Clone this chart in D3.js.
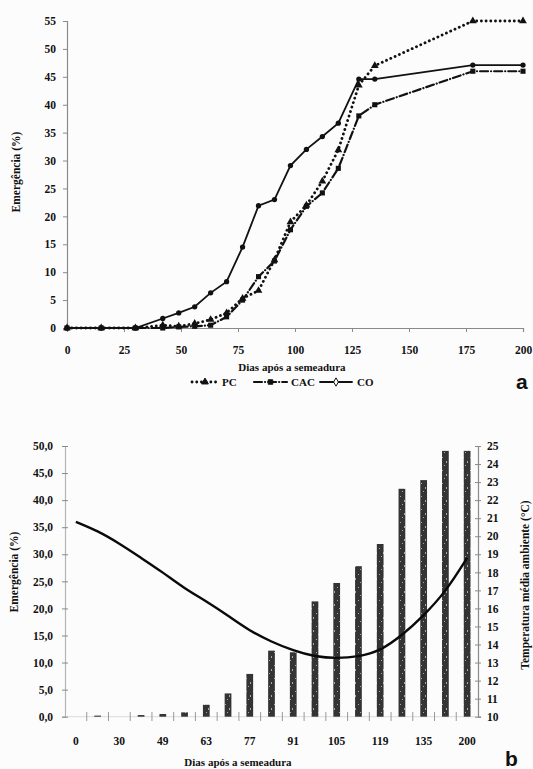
<!DOCTYPE html>
<html>
<head>
<meta charset="utf-8">
<script src="https://cdn.jsdelivr.net/npm/d3@7"></script>
<style>
  body { margin: 0; background: #fcfcfc; }
  svg { display: block; }
  text { font-family: "Liberation Serif", "Times New Roman", serif; font-weight: bold; fill: #111; }
  .tag { font-family: "Liberation Sans", Arial, sans-serif; font-size: 21px; }
</style>
</head>
<body>
<svg id="canvas" width="533" height="769"></svg>
<script>
// days after sowing (shared by both panels)
const days = [0, 15, 30, 42, 49, 56, 63, 70, 77, 84, 91, 98, 105, 112, 119, 128, 135, 178, 200];

// panel a - emergence (%) per treatment
const pc  = [0, 0, 0, 0.5, 0.3, 0.8, 1.5, 2.7, 5.3, 6.7, 12.2, 19.0, 22.0, 26.3, 31.9, 43.5, 47.0, 55.0, 55.0];
const cac = [0, 0, 0, 0, 0.2, 0.3, 0.5, 2.0, 5.0, 9.2, 12.0, 17.6, 21.8, 24.2, 28.6, 38.0, 40.0, 46.0, 46.0];
const co  = [0, 0, 0, 1.7, 2.7, 3.8, 6.3, 8.3, 14.5, 21.9, 23.0, 29.1, 32.0, 34.3, 36.7, 44.6, 44.6, 47.1, 47.1];
const xTicksA = [0, 25, 50, 75, 100, 125, 150, 175, 200];
const yTicksA = [0, 5, 10, 15, 20, 25, 30, 35, 40, 45, 50, 55];

// panel b - emergence bars and mean air temperature
const emerg = [0, 0.2, 0, 0.3, 0.5, 0.8, 2.2, 4.3, 7.9, 12.2, 11.9, 21.3, 24.7, 27.8, 31.9, 42.1, 43.7, 49.1, 49.1];
const temp  = [20.8, 20.3, 19.6, 18.8, 18.0, 17.1, 16.4, 15.6, 14.75, 14.15, 13.66, 13.32, 13.23, 13.32, 13.64, 14.5, 15.6, 16.9, 18.8];
const xLabelsB = ['0', '30', '49', '63', '77', '91', '105', '119', '135', '200'];
const yTicksB = [0, 5, 10, 15, 20, 25, 30, 35, 40, 45, 50];
const tTicksB = d3.range(10, 26);

const svg = d3.select('#canvas');

// speckled fill for the bars (scanned look)
const pat = svg.append('defs').append('pattern')
    .attr('id', 'speckle').attr('patternUnits', 'userSpaceOnUse')
    .attr('width', 7).attr('height', 13);
pat.append('rect').attr('width', 7).attr('height', 13).attr('fill', '#343434');
[[1, 2, 1, 1], [5, 6, 1, 2], [3, 10, 1, 1]].forEach(([x, y, w, h]) => {
    pat.append('rect').attr('x', x).attr('y', y).attr('width', w).attr('height', h).attr('fill', '#a8a8a8');
});

function styleAxis(g, size) {
    g.select('.domain').attr('stroke', '#8a8a8a').attr('stroke-width', 1.2);
    g.selectAll('.tick line').attr('stroke', '#8a8a8a');
    g.selectAll('.tick text').style('font-size', size + 'px');
}

// ---------- panel a ----------
const xA = d3.scaleLinear().domain([0, 200]).range([67, 523]);
const yA = d3.scaleLinear().domain([0, 55]).range([328, 21]);

svg.append('g')
    .attr('transform', 'translate(0,328)')
    .call(d3.axisBottom(xA).tickValues(xTicksA).tickSize(4).tickPadding(14))
    .call(g => styleAxis(g, 11.5));

svg.append('g')
    .attr('transform', 'translate(67,0)')
    .call(d3.axisLeft(yA).tickValues(yTicksA).tickSize(4).tickPadding(7))
    .call(g => styleAxis(g, 11.5));

svg.append('text').attr('transform', 'translate(20,172) rotate(-90)')
    .attr('text-anchor', 'middle').style('font-size', '11.5px').text('Emergência (%)');
svg.append('text').attr('x', 292).attr('y', 371)
    .attr('text-anchor', 'middle').style('font-size', '11px').text('Dias após a semeadura');

const seriesA = [
    { name: 'PC', values: pc, dash: '0.1,4.6', width: 2.8, shape: d3.symbolTriangle },
    { name: 'CAC', values: cac, dash: '8,3,0.1,3', width: 2.2, shape: d3.symbolSquare },
    { name: 'CO', values: co, dash: null, width: 1.8, shape: d3.symbolCircle }
];

const lineA = d3.line().x((d, i) => xA(days[i])).y(d => yA(d));

seriesA.forEach(s => {
    svg.append('path')
        .datum(s.values)
        .attr('fill', 'none')
        .attr('stroke', '#111')
        .attr('stroke-width', s.width)
        .attr('stroke-linecap', 'round')
        .attr('stroke-dasharray', s.dash)
        .attr('d', lineA);
    svg.append('g').selectAll('path')
        .data(s.values)
        .join('path')
        .attr('transform', (d, i) => `translate(${xA(days[i])},${yA(d)})`)
        .attr('d', d3.symbol().type(s.shape).size(s.name === 'CO' ? 22 : 26))
        .attr('fill', '#111');
});

// legend
const legend = svg.append('g').attr('transform', 'translate(0,386)');
const legendPos = [{ x0: 192, x1: 218, tx: 222 }, { x0: 254, x1: 287, tx: 291 }, { x0: 320, x1: 352, tx: 357 }];
seriesA.forEach((s, i) => {
    const p = legendPos[i];
    legend.append('line')
        .attr('x1', p.x0).attr('x2', p.x1).attr('y1', -4).attr('y2', -4)
        .attr('stroke', '#111').attr('stroke-width', s.width)
        .attr('stroke-linecap', 'round').attr('stroke-dasharray', s.dash);
    legend.append('path')
        .attr('transform', `translate(${(p.x0 + p.x1) / 2},-4)`)
        .attr('d', d3.symbol().type(s.name === 'CO' ? d3.symbolDiamond : s.shape).size(20))
        .attr('fill', s.name === 'CO' ? '#fcfcfc' : '#111')
        .attr('stroke', '#111');
    legend.append('text').attr('x', p.tx).attr('y', 0).style('font-size', '11px').text(s.name);
});
svg.append('text').attr('class', 'tag').attr('x', 516).attr('y', 389).text('a');

// ---------- panel b ----------
const xB = d3.scaleBand().domain(days.map(String)).range([65, 478]).paddingInner(0.69).paddingOuter(0.345);
const yB = d3.scaleLinear().domain([0, 50]).range([716.7, 446]);
const yT = d3.scaleLinear().domain([10, 25]).range([716.7, 446]);
const step = xB.step();
const comma = d3.formatLocale({ decimal: ',', thousands: '.', grouping: [3], currency: ['', ''] }).format('.1f');

// baseline with boundary ticks
svg.append('line').attr('x1', 65).attr('x2', 478).attr('y1', 716.7).attr('y2', 716.7)
    .attr('stroke', '#dadada').attr('stroke-width', 1);
svg.append('g').selectAll('line')
    .data(days.slice(1))
    .join('line')
    .attr('x1', d => xB(String(d)) + xB.bandwidth() / 2 - step / 2)
    .attr('x2', d => xB(String(d)) + xB.bandwidth() / 2 - step / 2)
    .attr('y1', 712).attr('y2', 721)
    .attr('stroke', '#9a9a9a');

svg.append('g').selectAll('rect')
    .data(emerg)
    .join('rect')
    .attr('x', (d, i) => xB(String(days[i])))
    .attr('width', xB.bandwidth())
    .attr('y', d => yB(d))
    .attr('height', d => yB(0) - yB(d))
    .attr('fill', 'url(#speckle)');

const lineT = d3.line()
    .x((d, i) => xB(String(days[i])) + xB.bandwidth() / 2)
    .y(d => yT(d))
    .curve(d3.curveBasis);
svg.append('path').datum(temp)
    .attr('fill', 'none').attr('stroke', '#0a0a0a').attr('stroke-width', 2.4)
    .attr('d', lineT);

svg.append('g')
    .attr('transform', 'translate(65,0)')
    .call(d3.axisLeft(yB).tickValues(yTicksB).tickFormat(comma).tickSize(3).tickPadding(9))
    .call(g => styleAxis(g, 11.5))
    .call(g => g.select('.domain').attr('stroke', '#b5b5b5'))
    .call(g => g.selectAll('.tick line').attr('x2', 3).attr('x1', -3));

svg.append('g')
    .attr('transform', 'translate(478,0)')
    .call(d3.axisRight(yT).tickValues(tTicksB).tickFormat(d3.format('d')).tickSize(3).tickPadding(6))
    .call(g => styleAxis(g, 11.5))
    .call(g => g.selectAll('.tick line').attr('x1', -3));

const labelDays = days.filter((d, i) => i % 2 === 0);
svg.append('g')
    .attr('transform', 'translate(0,716.7)')
    .call(d3.axisBottom(xB).tickValues(labelDays.map(String)).tickFormat((d, i) => xLabelsB[i]).tickSize(0).tickPadding(20))
    .call(g => g.select('.domain').remove())
    .call(g => g.selectAll('.tick text').style('font-size', '11.5px'));

svg.append('text').attr('transform', 'translate(18,572) rotate(-90)')
    .attr('text-anchor', 'middle').style('font-size', '11.5px').text('Emergência (%)');
svg.append('text').attr('transform', 'translate(529,585) rotate(-90)')
    .attr('text-anchor', 'middle').style('font-size', '11.5px').text('Temperatura média ambiente (°C)');
svg.append('text').attr('x', 238).attr('y', 766)
    .attr('text-anchor', 'middle').style('font-size', '11px').text('Dias após a semeadura');
svg.append('text').attr('class', 'tag').attr('x', 505).attr('y', 766).text('b');
</script>
</body>
</html>
